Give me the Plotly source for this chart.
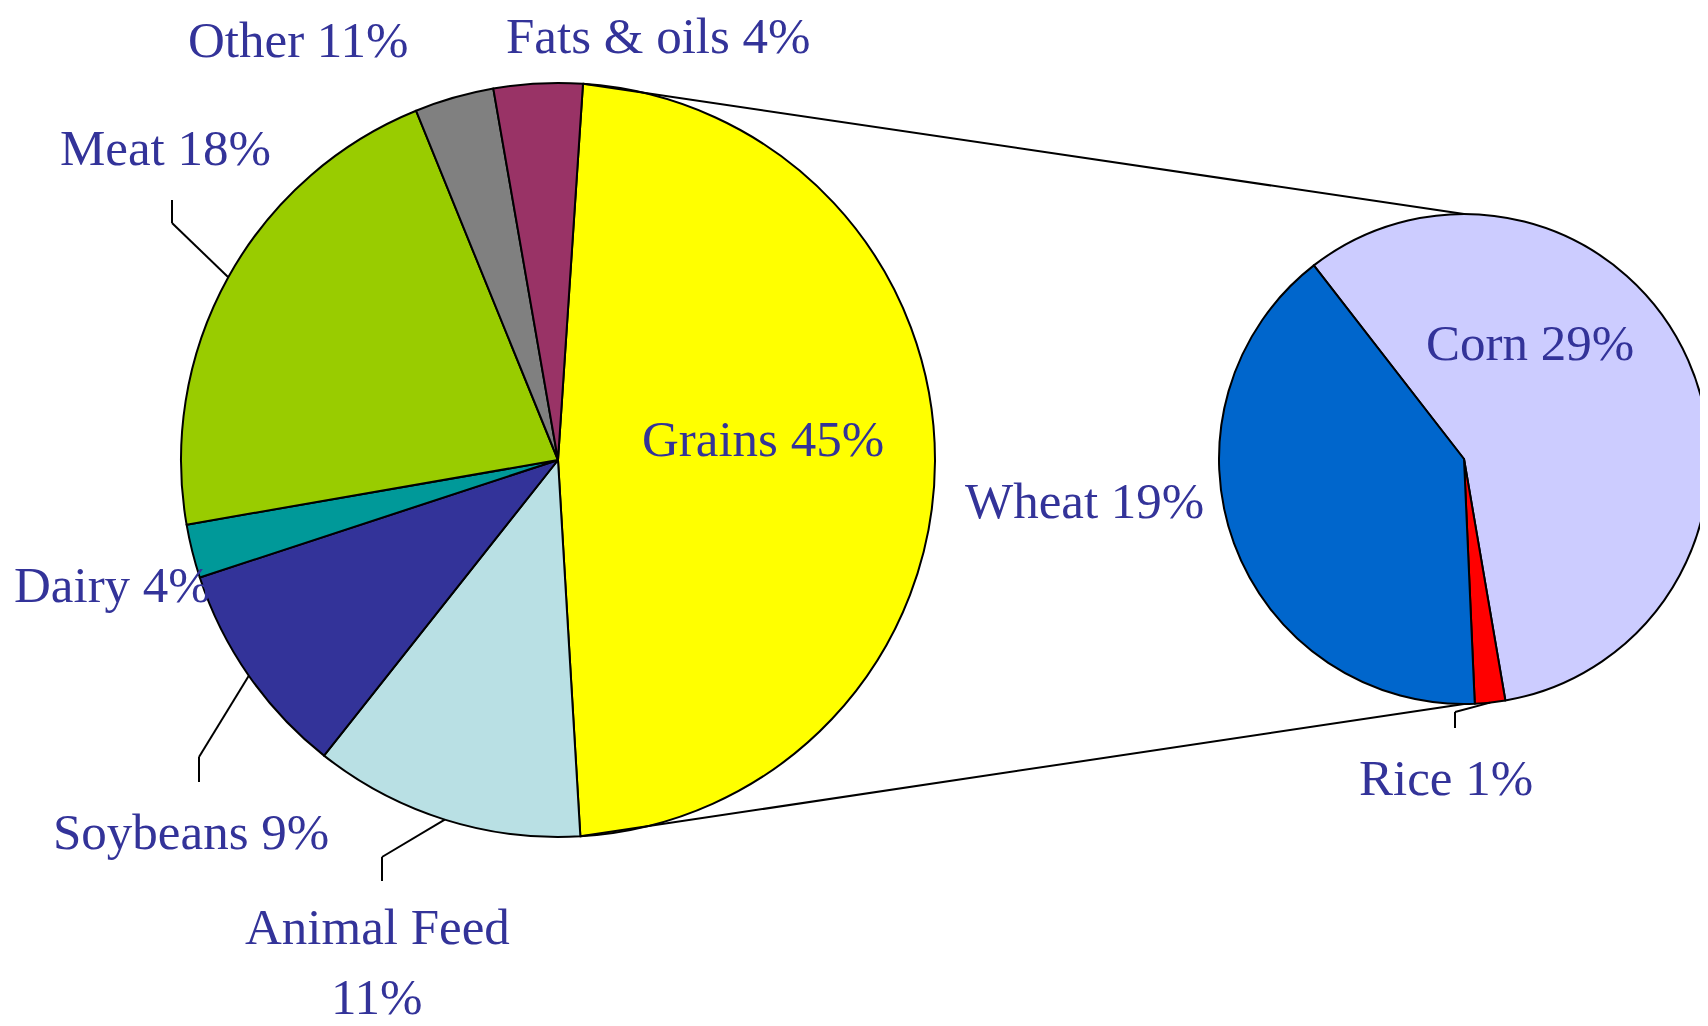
import math
import plotly.graph_objects as go

W, H = 1708, 1026
PAGE_OFFSET = 8  # the page body margin shifts the figure by 8 px

# ---- data ----
main_labels = ["Grains", "Animal Feed", "Soybeans", "Dairy", "Meat", "Other", "Fats & oils"]
main_values = [48.0, 11.6, 9.3, 2.3, 21.6, 3.4, 3.8]
main_texts = ["Grains 45%", "Animal Feed<br>11%", "Soybeans 9%", "Dairy 4%", "Meat 18%", "Other 11%", "Fats & oils 4%"]

sub_labels = ["Corn", "Rice", "Wheat"]
sub_values = [57.8, 2.0, 40.2]
sub_texts = ["Corn 29%", "Rice 1%", "Wheat 19%"]

# ---- styles / layout ----
main_colors = ["#FFFF00", "#B9E0E4", "#333399", "#009999", "#99CC00", "#808080", "#993366"]
sub_colors = ["#CCCCFF", "#FF0000", "#0066CC"]
TEXT_COLOR = "#333399"
FONT = "Liberation Serif, Times New Roman, serif"
FSIZE = 51
LINE_GAP = 70

main_cx, main_cy, main_r = 558, 460, 377
sub_cx, sub_cy, sub_r = 1464, 459, 245
main_rot = 3.8
sub_rot = -37.8

label_pos = {
    "Grains": (763, 439), "Animal Feed": (377, 962), "Soybeans": (191, 832),
    "Dairy": (112, 585), "Meat": (165, 148), "Other": (298, 40),
    "Fats & oils": (658, 36), "Corn": (1530, 343), "Rice": (1446, 778),
    "Wheat": (1084, 501),
}
leader_bends = {
    "Meat": [(172, 223), (172, 200)],
    "Soybeans": [(199, 757), (199, 782)],
    "Animal Feed": [(382, 857), (382, 881)],
    "Rice": [(1455, 712), (1455, 728)],
}


def px(x):
    return (x - PAGE_OFFSET) / W


def py(y):
    return 1 - (y - PAGE_OFFSET) / H


def on_circle(cx, cy, r, ang):
    a = math.radians(ang)
    return cx + r * math.sin(a), cy - r * math.cos(a)


def slice_angles(values, rot):
    tot = sum(values)
    out = []
    cum = 0
    for v in values:
        s = rot + 360 * cum / tot
        cum += v
        e = rot + 360 * cum / tot
        out.append((s, e))
    return out


fig = go.Figure()
fig.add_trace(go.Pie(
    labels=main_labels, values=main_values, sort=False, direction="clockwise",
    rotation=main_rot, textinfo="none", hoverinfo="skip", showlegend=False,
    marker=dict(colors=main_colors, line=dict(color="black", width=2)),
    domain=dict(x=[px(main_cx - main_r), px(main_cx + main_r)],
                y=[py(main_cy + main_r), py(main_cy - main_r)]),
))
fig.add_trace(go.Pie(
    labels=sub_labels, values=sub_values, sort=False, direction="clockwise",
    rotation=sub_rot, textinfo="none", hoverinfo="skip", showlegend=False,
    marker=dict(colors=sub_colors, line=dict(color="black", width=2)),
    domain=dict(x=[px(sub_cx - sub_r), min(1.0, px(sub_cx + sub_r))],
                y=[py(sub_cy + sub_r), py(sub_cy - sub_r)]),
))

shapes = []


def add_line(p0, p1):
    shapes.append(dict(type="line", xref="paper", yref="paper",
                       x0=px(p0[0]), y0=py(p0[1]), x1=px(p1[0]), y1=py(p1[1]),
                       line=dict(color="black", width=2)))


main_ang = dict(zip(main_labels, slice_angles(main_values, main_rot)))
sub_ang = dict(zip(sub_labels, slice_angles(sub_values, sub_rot)))

# connector lines between the split slice and the secondary pie
gs, ge = main_ang["Grains"]
add_line(on_circle(main_cx, main_cy, main_r, gs), on_circle(sub_cx, sub_cy, sub_r, 0))
add_line(on_circle(main_cx, main_cy, main_r, ge), on_circle(sub_cx, sub_cy, sub_r, 180))

# leader lines
for name, bends in leader_bends.items():
    if name in main_ang:
        s, e = main_ang[name]
        start = on_circle(main_cx, main_cy, main_r, (s + e) / 2)
    else:
        s, e = sub_ang[name]
        start = on_circle(sub_cx, sub_cy, sub_r, (s + e) / 2)
    pts = [start] + bends
    for a, b in zip(pts[:-1], pts[1:]):
        add_line(a, b)

annotations = []
for name, txt in list(zip(main_labels, main_texts)) + list(zip(sub_labels, sub_texts)):
    x, y = label_pos[name]
    lines = txt.split("<br>")
    n = len(lines)
    for i, line in enumerate(lines):
        ly = y + (i - (n - 1) / 2) * LINE_GAP
        annotations.append(dict(
            x=px(x), y=py(ly), xref="paper", yref="paper", text=line, showarrow=False,
            xanchor="center", yanchor="middle",
            font=dict(family=FONT, size=FSIZE, color=TEXT_COLOR),
        ))

fig.update_layout(
    width=W, height=H, margin=dict(l=0, r=0, t=0, b=0),
    paper_bgcolor="white", plot_bgcolor="white",
    shapes=shapes, annotations=annotations, showlegend=False,
)

fig.write_html("out.html")
